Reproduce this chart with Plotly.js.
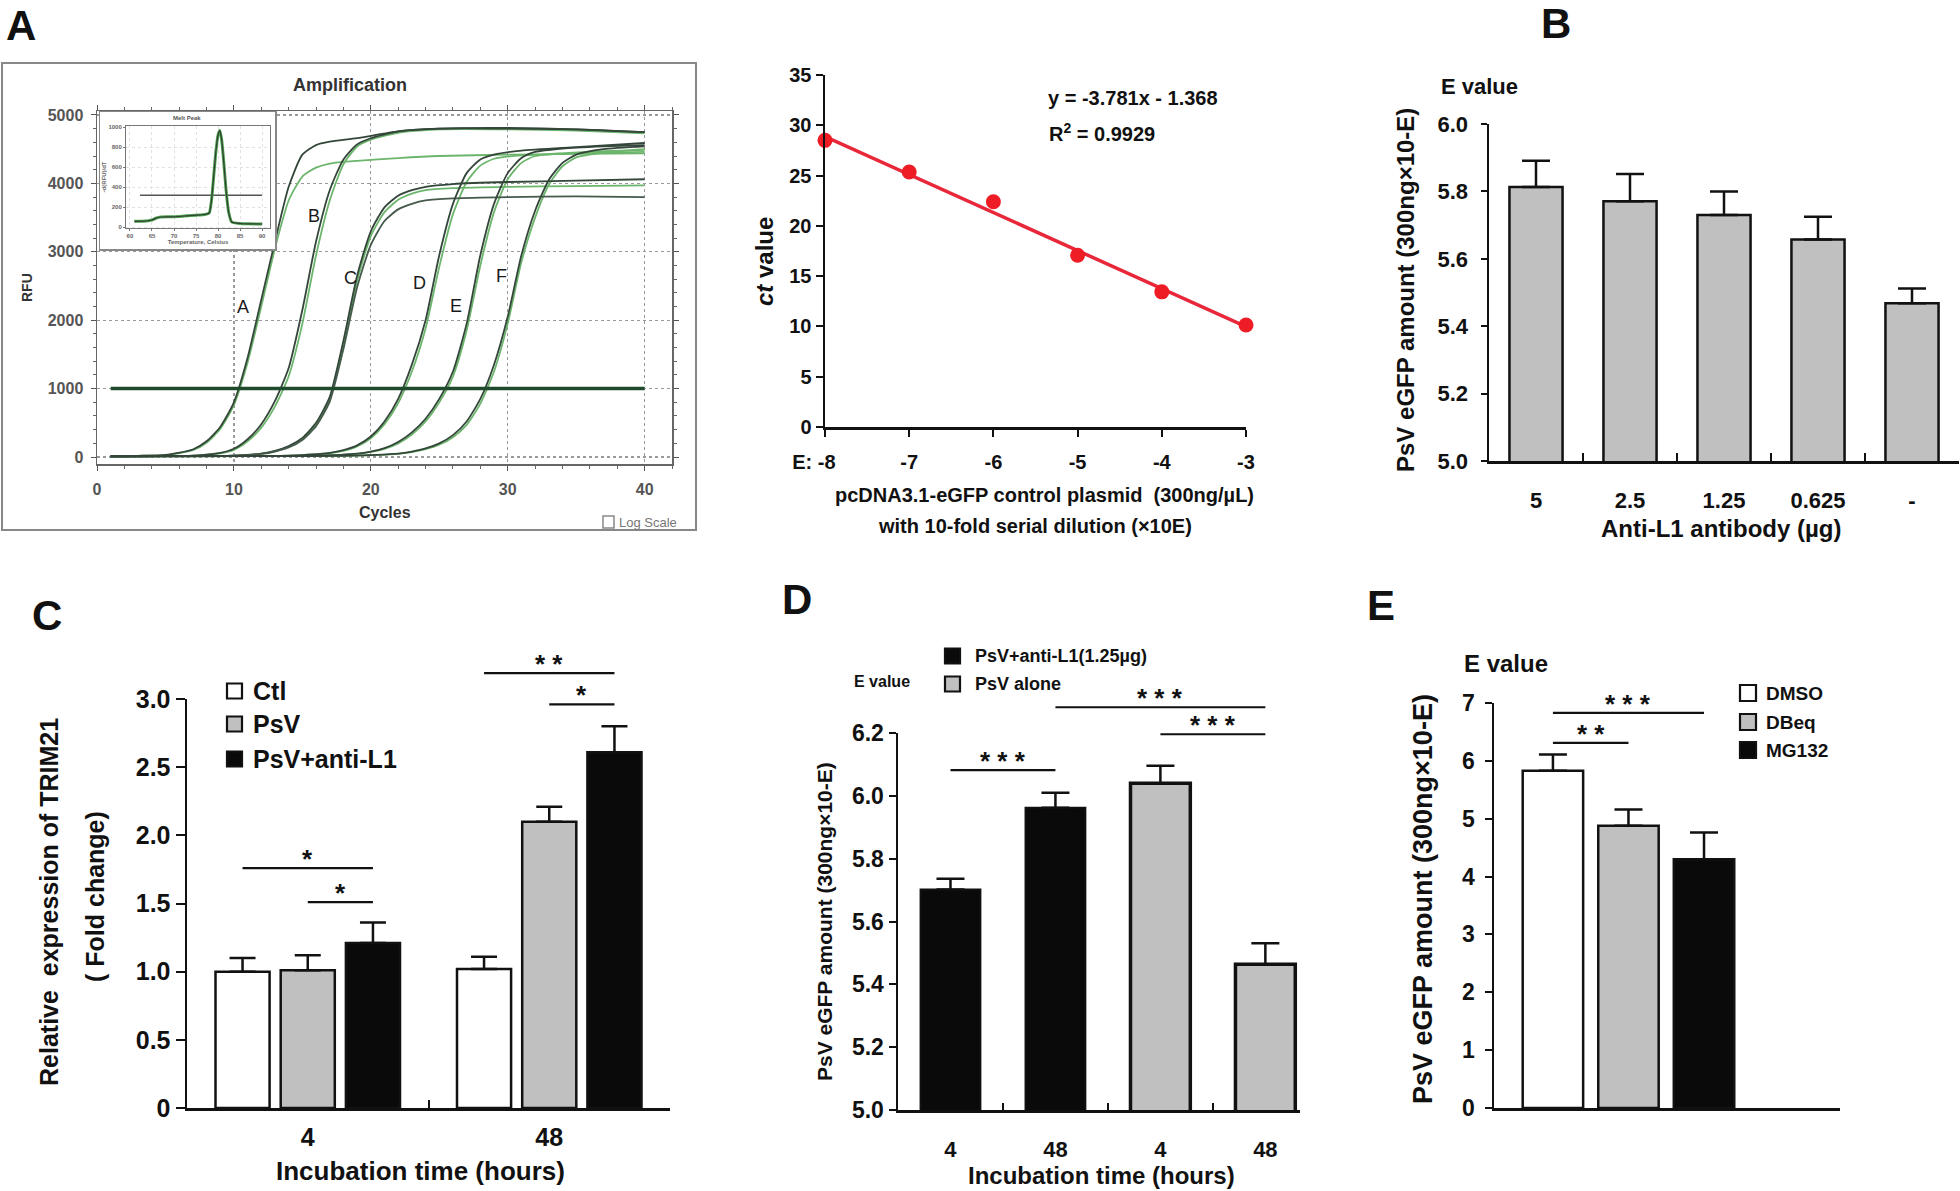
<!DOCTYPE html>
<html>
<head>
<meta charset="utf-8">
<script src="https://cdn.plot.ly/plotly-3.0.1.min.js"></script>
<style>
  html, body { margin: 0; padding: 0; background: #fff; }
  #fig { width: 1960px; height: 1191px; }
</style>
</head>
<body>
<div id="fig"></div>
<script>
// ---------- Panel A (left): amplification curves, cycle vs RFU ----------
const cycA = [1, 3, 5, 7, 8, 9, 10, 11, 12, 13, 14, 15, 16, 17, 19, 22, 25, 30, 35, 40];
const rfuA1 = [15, 18, 30, 110, 230, 440, 800, 1450, 2300, 3150, 3950, 4420, 4560, 4610, 4660, 4760, 4800, 4800, 4790, 4750];
const rfuA2 = [15, 18, 28, 100, 210, 410, 760, 1380, 2200, 3050, 3750, 4100, 4230, 4290, 4330, 4370, 4400, 4420, 4430, 4440];

const cycB = [1, 4, 7, 9, 10, 11, 12, 13, 14, 15, 16, 17, 18, 19, 20, 22, 25, 30, 35, 40];
const rfuB1 = [10, 12, 20, 60, 120, 260, 480, 820, 1300, 2150, 3150, 3900, 4350, 4570, 4660, 4760, 4800, 4810, 4790, 4750];
const rfuB2 = [10, 12, 20, 55, 105, 230, 430, 740, 1180, 1950, 2950, 3750, 4280, 4540, 4640, 4740, 4790, 4790, 4770, 4730];

const cycC = [1, 5, 10, 12, 13, 14, 15, 16, 17, 18, 19, 20, 21, 22, 23, 24, 26, 30, 35, 40];
const rfuC1 = [10, 12, 20, 50, 90, 160, 280, 500, 880, 1700, 2650, 3300, 3650, 3820, 3900, 3950, 3990, 4020, 4040, 4060];
const rfuC2 = [10, 12, 20, 48, 85, 150, 265, 480, 850, 1650, 2580, 3230, 3580, 3760, 3850, 3900, 3930, 3950, 3960, 3970];
const rfuC3 = [10, 12, 20, 45, 80, 140, 250, 450, 810, 1580, 2480, 3100, 3450, 3620, 3700, 3750, 3780, 3800, 3810, 3800];

const cycD = [1, 8, 14, 17, 18, 19, 20, 21, 22, 23, 24, 25, 26, 27, 28, 29, 31, 35, 40];
const rfuD1 = [10, 12, 20, 60, 100, 170, 300, 520, 850, 1350, 2000, 2950, 3700, 4150, 4350, 4420, 4480, 4530, 4590];
const rfuD2 = [10, 12, 20, 55, 90, 155, 275, 480, 790, 1250, 1880, 2780, 3550, 4020, 4260, 4360, 4410, 4440, 4460];

const cycE = [1, 10, 16, 19, 20, 21, 22, 23, 24, 25, 26, 27, 28, 29, 30, 31, 32, 34, 37, 40];
const rfuE1 = [10, 12, 20, 50, 80, 130, 220, 360, 560, 850, 1250, 1950, 2950, 3700, 4150, 4370, 4460, 4510, 4540, 4560];
const rfuE2 = [10, 12, 20, 45, 75, 120, 200, 330, 520, 800, 1180, 1850, 2800, 3580, 4060, 4300, 4400, 4440, 4470, 4490];

const cycF = [1, 12, 18, 22, 23, 24, 25, 26, 27, 28, 29, 30, 31, 32, 33, 34, 35, 37, 40];
const rfuF1 = [10, 12, 18, 50, 80, 125, 200, 320, 520, 850, 1350, 2050, 2950, 3600, 4050, 4300, 4420, 4500, 4540];
const rfuF2 = [10, 12, 18, 45, 72, 115, 180, 290, 470, 780, 1250, 1950, 2850, 3500, 3980, 4250, 4380, 4450, 4500];

const thresholdCycles = [1, 40];
const thresholdRFU = [1000, 1000];

const curveLabels = ['A', 'B', 'C', 'D', 'E', 'F'];
const curveLabelCycle = [10.66, 15.84, 18.54, 23.58, 26.2, 29.56];
const curveLabelRFU = [2193, 3523, 2617, 2544, 2208, 2646];

// inset: melt peak
const meltTemp = [61, 63, 65, 66, 67, 69, 71, 73, 75, 77, 78, 78.5, 79, 79.5, 80, 80.4, 80.8, 81.3, 81.8, 82.4, 83.1, 85, 87, 90];
const meltDeriv = [57, 58, 70, 90, 100, 102, 105, 112, 118, 125, 140, 260, 500, 750, 920, 965, 880, 650, 380, 150, 50, 35, 32, 30];
const meltThrTemp = [62.3, 90];
const meltThr = [317, 317];

// ---------- Panel A (right): standard curve ----------
const dilutionE = [-8, -7, -6, -5, -4, -3];
const dilutionLabels = ['E: -8\u00a0\u00a0\u00a0\u00a0', '-7', '-6', '-5', '-4', '-3'];
const ctValues = [28.5, 25.35, 22.4, 17.07, 13.44, 10.14];
const fitE = [-8, -3];
const fitCt = [28.88, 9.98];

// ---------- Panel B ----------
const antibodyDose = ['5', '2.5', '1.25', '0.625', '-'];
const eValueB = [5.813, 5.771, 5.730, 5.657, 5.468];
const errB = [0.078, 0.081, 0.070, 0.068, 0.044];

// ---------- Panel C ----------
const incubation = ['4', '48'];
const cCtl = [1.0, 1.02];
const cPsV = [1.01, 2.10];
const cAnti = [1.21, 2.61];
const errCtl = [0.10, 0.09];
const errPsV = [0.11, 0.11];
const errAnti = [0.15, 0.19];
const cTickVals = [0, 0.5, 1, 1.5, 2, 2.5, 3];
const cTickText = ['0', '0.5', '1.0', '1.5', '2.0', '2.5', '3.0'];
const cLegend = ['Ctl', 'PsV', 'PsV+anti-L1'];
// [category, bar from, bar to, level, label]
const cBrackets = [[0, 0, 2, 1.76, '*'], [0, 1, 2, 1.51, '*'], [1, 0, 2, 3.19, '* *'], [1, 1, 2, 2.96, '*']];

// ---------- Panel D ----------
const dLabels = ['4', '48', '4', '48'];
const dAnti = [5.702, 5.962];
const dAlone = [6.040, 5.464];
const errDAnti = [0.034, 0.048];
const errDAlone = [0.056, 0.067];
const dLegend = ['PsV+anti-L1(1.25\u00b5g)', 'PsV alone'];
// [bar from, bar to, level, label]
const dBrackets = [[0, 1, 6.082, '* * *'], [1, 3, 6.282, '* * *'], [2, 3, 6.196, '* * *']];

// ---------- Panel E ----------
const eTreat = ['DMSO', 'DBeq', 'MG132'];
const eValueE = [5.83, 4.88, 4.30];
const errE = [0.28, 0.28, 0.46];
const eBrackets = [[0, 1, 6.31, '* *'], [0, 2, 6.83, '* * *']];

// ---------- helpers ----------
const W = 1960, H = 1191;
const FONT = 'Liberation Sans, Arial, Helvetica, sans-serif';
const INK = '#111';
const GREY = '#c0c0c0';
function dx(a, b) { return [a / W, b / W]; }
function dy(top, bottom) { return [1 - bottom / H, 1 - top / H]; }
function f(size, color, weight) { return {family: FONT, size: size, color: color || INK, weight: weight || 'bold'}; }
function txt(x, y, text, size, extra) {
  return Object.assign({xref: 'paper', yref: 'paper', x: x / W, y: 1 - y / H, text: text,
    showarrow: false, xanchor: 'center', yanchor: 'middle', font: f(size)}, extra || {});
}
function errUp(arr, w) {
  return {type: 'data', array: arr, arrayminus: arr.map(() => 0), symmetric: false,
    color: INK, thickness: 2.5, width: w || 14};
}

const traces = [];
const shapes = [];
const annotations = [];

// amplification curves
const ampSets = [
  [cycA, rfuA2, '#6cb56c'], [cycB, rfuB2, '#6cb56c'], [cycC, rfuC2, '#6cb56c'],
  [cycD, rfuD2, '#6cb56c'], [cycE, rfuE2, '#6cb56c'], [cycF, rfuF2, '#6cb56c'],
  [cycA, rfuA1, '#34463a'], [cycB, rfuB1, '#34463a'], [cycC, rfuC1, '#34463a'],
  [cycC, rfuC3, '#465a4c'], [cycD, rfuD1, '#34463a'], [cycE, rfuE1, '#34463a'], [cycF, rfuF1, '#34463a']
];
ampSets.forEach(s => traces.push({
  type: 'scatter', mode: 'lines', x: s[0], y: s[1], xaxis: 'x', yaxis: 'y',
  line: {color: s[2], width: 1.8, shape: 'spline', smoothing: 0.6}, hoverinfo: 'skip'
}));
traces.push({type: 'scatter', mode: 'lines', x: thresholdCycles, y: thresholdRFU, xaxis: 'x', yaxis: 'y',
  line: {color: '#1f4a2b', width: 3.5}, hoverinfo: 'skip'});

// white cover behind the inset
traces.push({type: 'scatter', mode: 'markers', x: [], y: [], xaxis: 'x2', yaxis: 'y2'});

// inset
traces.push({type: 'scatter', mode: 'lines', x: meltThrTemp, y: meltThr, xaxis: 'x3', yaxis: 'y3',
  line: {color: '#555', width: 1.5}, hoverinfo: 'skip'});
traces.push({type: 'scatter', mode: 'lines', x: meltTemp, y: meltDeriv, xaxis: 'x3', yaxis: 'y3',
  line: {color: '#4fa04f', width: 3, shape: 'spline', smoothing: 0.5}, hoverinfo: 'skip'});
traces.push({type: 'scatter', mode: 'lines', x: meltTemp, y: meltDeriv, xaxis: 'x3', yaxis: 'y3',
  line: {color: '#2f3f33', width: 1.2, shape: 'spline', smoothing: 0.5}, hoverinfo: 'skip'});

// standard curve
traces.push({type: 'scatter', mode: 'lines', x: fitE, y: fitCt, xaxis: 'x4', yaxis: 'y4',
  line: {color: '#e8283a', width: 3.5}, hoverinfo: 'skip'});
traces.push({type: 'scatter', mode: 'markers', x: dilutionE, y: ctValues, xaxis: 'x4', yaxis: 'y4',
  marker: {color: '#ee1c25', size: 15}, cliponaxis: false, hoverinfo: 'skip'});

// panel B
traces.push({type: 'bar', x: antibodyDose, y: eValueB, xaxis: 'x5', yaxis: 'y5', width: 0.565,
  marker: {color: GREY, line: {color: INK, width: 2.5}}, error_y: errUp(errB, 14)});

// panel C
const cOffsets = [-0.27, 0, 0.27];
const cWidth = 0.224;
[[cCtl, errCtl, '#ffffff'], [cPsV, errPsV, GREY], [cAnti, errAnti, '#0a0a0a']].forEach((s, k) => {
  traces.push({type: 'bar', x: incubation, y: s[0], xaxis: 'x6', yaxis: 'y6', name: cLegend[k],
    width: cWidth, offset: cOffsets[k] - cWidth / 2,
    marker: {color: s[2], line: {color: INK, width: 2.5}}, error_y: errUp(s[1], 13)});
});

// panel D
const dWidth = 0.57;
traces.push({type: 'bar', x: [0, 1], y: dAnti, xaxis: 'x7', yaxis: 'y7', name: dLegend[0], width: dWidth,
  marker: {color: '#0a0a0a', line: {color: INK, width: 2}}, error_y: errUp(errDAnti, 14)});
traces.push({type: 'bar', x: [2, 3], y: dAlone, xaxis: 'x7', yaxis: 'y7', name: dLegend[1], width: dWidth,
  marker: {color: GREY, line: {color: INK, width: 3.5}}, error_y: errUp(errDAlone, 14)});

// panel E
const eColors = ['#ffffff', GREY, '#0a0a0a'];
eTreat.forEach((name, k) => {
  traces.push({type: 'bar', x: [k], y: [eValueE[k]], xaxis: 'x8', yaxis: 'y8', name: name, width: 0.8,
    marker: {color: eColors[k], line: {color: INK, width: 2.5}}, error_y: errUp([errE[k]], 14)});
});

// ---------- annotations & shapes ----------
function bracket(xa, ya, range, x0, x1, level, label) {
  const yd = (level - range[0]) / (range[1] - range[0]);
  shapes.push({type: 'line', xref: xa, yref: ya + ' domain', x0: x0, x1: x1, y0: yd, y1: yd,
    line: {color: INK, width: 2.2}});
  annotations.push({xref: xa, yref: ya + ' domain', x: (x0 + x1) / 2, y: yd, text: label,
    showarrow: false, xanchor: 'center', yanchor: 'middle', yshift: 9, font: f(26)});
}
const cRange = [0, 3], dRange = [5, 6.2], eRange = [0, 7];
cBrackets.forEach(b => bracket('x6', 'y6', cRange, b[0] + cOffsets[b[1]], b[0] + cOffsets[b[2]], b[3], b[4]));
dBrackets.forEach(b => bracket('x7', 'y7', dRange, b[0], b[1], b[2], b[3]));
eBrackets.forEach(b => bracket('x8', 'y8', eRange, b[0], b[1], b[2], b[3]));

// panel letters
[['A', 21, 25], ['B', 1556, 23], ['C', 47, 615], ['D', 797, 599], ['E', 1381, 605]].forEach(p =>
  annotations.push(txt(p[1], p[2], p[0], 42)));

// amplification frame and texts
shapes.push({type: 'rect', xref: 'paper', yref: 'paper', x0: 2 / W, x1: 696 / W, y0: 1 - 530 / H, y1: 1 - 63 / H,
  line: {color: '#888', width: 2}, layer: 'below'});
shapes.push({type: 'rect', xref: 'paper', yref: 'paper', x0: 603 / W, x1: 614 / W, y0: 1 - 528 / H, y1: 1 - 516 / H,
  line: {color: '#888', width: 1.5}});
annotations.push(txt(350, 85, 'Amplification', 18, {font: f(18, '#333')}));
annotations.push(txt(385, 513, 'Cycles', 16, {font: f(16, '#333')}));
annotations.push(txt(27, 288, 'RFU', 14, {font: f(14, '#333'), textangle: -90}));
annotations.push(txt(617, 522, 'Log Scale', 13, {font: f(13, '#777', 'normal'), xanchor: 'left'}));
annotations.push(txt(187, 118, 'Melt Peak', 6, {font: f(6, '#555')}));
curveLabels.forEach((t, i) => annotations.push({xref: 'x', yref: 'y', x: curveLabelCycle[i], y: curveLabelRFU[i],
  text: t, showarrow: false, font: f(18, '#1a1a1a', 'normal')}));

// standard curve texts
annotations.push(txt(764, 262, '<i>ct</i> value', 24, {textangle: -90}));
annotations.push(txt(1044, 495, 'pcDNA3.1-eGFP control plasmid\u00a0\u00a0(300ng/\u00b5L)', 20));
annotations.push(txt(1035, 526, 'with 10-fold serial dilution (\u00d710E)', 20));
annotations.push(txt(1046, 98, 'y = -3.781x - 1.368', 20, {xanchor: 'left'}));
annotations.push(txt(1047, 132, 'R<sup>2</sup> = 0.9929', 20, {xanchor: 'left'}));

// panel B texts
annotations.push(txt(1479, 87, 'E value', 22));
annotations.push(txt(1405, 290, 'PsV eGFP amount (300ng\u00d710-E)', 24, {textangle: -90}));
annotations.push(txt(1721, 528, 'Anti-L1 antibody (\u00b5g)', 24));

// panel C texts
annotations.push(txt(49, 902, 'Relative\u00a0\u00a0expression of TRIM21', 25, {textangle: -90}));
annotations.push(txt(95, 897, '( Fold change)', 25, {textangle: -90}));
annotations.push(txt(420, 1171, 'Incubation time (hours)', 26));

// panel D texts
annotations.push(txt(882, 681, 'E value', 16));
annotations.push(txt(824, 922, 'PsV eGFP amount (300ng\u00d710-E)', 21, {textangle: -90}));
annotations.push(txt(1101, 1175, 'Incubation time (hours)', 24));

// panel E texts
annotations.push(txt(1506, 664, 'E value', 24));
annotations.push(txt(1423, 899, 'PsV eGFP amount (300ng\u00d710-E)', 27, {textangle: -90}));

// manual legends
function legend(names, fills, sqX, sqSize, textX, ys, size) {
  names.forEach((n, i) => {
    shapes.push({type: 'rect', xref: 'paper', yref: 'paper', x0: sqX / W, x1: (sqX + sqSize) / W,
      y0: 1 - (ys[i] + sqSize / 2) / H, y1: 1 - (ys[i] - sqSize / 2) / H,
      fillcolor: fills[i], line: {color: INK, width: 2.2}});
    annotations.push(txt(textX, ys[i], n, size, {xanchor: 'left'}));
  });
}
legend(cLegend, ['#ffffff', GREY, '#0a0a0a'], 227, 15, 251, [691, 724, 759], 25);
legend(dLegend, ['#0a0a0a', GREY], 945, 15, 973, [656, 684], 18);
legend(eTreat, eColors, 1740, 16, 1764, [693, 722, 750], 19);

// ---------- axes ----------
const barY = {showline: true, linecolor: INK, linewidth: 2.5, ticks: 'outside', ticklen: 7, tickwidth: 2,
  tickcolor: INK, showgrid: false, zeroline: false, fixedrange: true};
const barX = {showline: true, linecolor: INK, linewidth: 2.5, ticks: 'inside', ticklen: 8, tickwidth: 2,
  tickcolor: INK, showgrid: false, zeroline: false, fixedrange: true};

const layout = {
  width: W, height: H, margin: {l: 0, r: 0, t: 0, b: 0},
  paper_bgcolor: '#ffffff', plot_bgcolor: '#ffffff', showlegend: false, barmode: 'overlay',
  font: f(16), shapes: shapes, annotations: annotations,

  xaxis: {domain: dx(97, 672), anchor: 'y', range: [0, 42], tickvals: [0, 10, 20, 30, 40],
    showgrid: true, gridcolor: '#9a9a9a', griddash: 'dot', gridwidth: 1.3, zeroline: false,
    showline: true, mirror: 'ticks', linecolor: '#666', linewidth: 1.5, ticks: 'outside', ticklen: 5,
    tickcolor: '#555', tickfont: f(16, '#555'), ticklabelstandoff: 5,
    minor: {dtick: 2, ticks: 'outside', ticklen: 3, tickcolor: '#666'}},
  yaxis: {domain: dy(111, 464), anchor: 'x', range: [-102, 5058], tickvals: [0, 1000, 2000, 3000, 4000, 5000],
    showgrid: true, gridcolor: '#9a9a9a', griddash: 'dot', gridwidth: 1.3, zeroline: false,
    showline: true, mirror: 'ticks', linecolor: '#666', linewidth: 1.5, ticks: 'outside', ticklen: 5,
    tickcolor: '#555', tickfont: f(16, '#555'), ticklabelstandoff: 4,
    minor: {dtick: 200, ticks: 'outside', ticklen: 3, tickcolor: '#666'}},

  xaxis2: {domain: dx(100, 275), anchor: 'y2', range: [0, 1], showline: true, mirror: true, linecolor: '#888',
    linewidth: 1.5, showgrid: false, zeroline: false, showticklabels: false, ticks: ''},
  yaxis2: {domain: dy(112, 249), anchor: 'x2', range: [0, 1], showline: true, mirror: true, linecolor: '#888',
    linewidth: 1.5, showgrid: false, zeroline: false, showticklabels: false, ticks: ''},

  xaxis3: {domain: dx(126, 270), anchor: 'y3', range: [59.1, 91.8], tickvals: [60, 65, 70, 75, 80, 85, 90],
    showline: true, mirror: true, linecolor: '#777', linewidth: 1, ticks: 'outside', ticklen: 2, tickcolor: '#777',
    tickfont: f(6, '#666'), showgrid: true, gridcolor: '#e2e2e2', griddash: 'dot', zeroline: false,
    title: {text: 'Temperature, Celsius', font: f(6, '#666'), standoff: 1}},
  yaxis3: {domain: dy(126, 228), anchor: 'x3', range: [-10, 1010], tickvals: [0, 200, 400, 600, 800, 1000],
    showline: true, mirror: true, linecolor: '#777', linewidth: 1, ticks: 'outside', ticklen: 2, tickcolor: '#777',
    tickfont: f(6, '#666'), showgrid: true, gridcolor: '#e2e2e2', griddash: 'dot', zeroline: false,
    title: {text: '-d(RFU)/dT', font: f(6, '#666'), standoff: 1}},

  xaxis4: Object.assign({}, barY, {domain: dx(825, 1246), anchor: 'y4', range: [-8, -3],
    tickvals: dilutionE, ticktext: dilutionLabels, tickfont: f(20), ticklabelstandoff: 8}),
  yaxis4: Object.assign({}, barY, {domain: dy(75, 427), anchor: 'x4', range: [0, 35], dtick: 5,
    tickfont: f(20)}),

  xaxis5: Object.assign({}, barX, {domain: dx(1489, 1959), anchor: 'y5', type: 'category',
    range: [-0.5, 4.5], tickson: 'boundaries', tickfont: f(22), ticklabelstandoff: 18}),
  yaxis5: Object.assign({}, barY, {domain: dy(124, 461), anchor: 'x5', range: [5, 6], dtick: 0.2,
    tickformat: '.1f', ticklen: 6, tickfont: f(22), ticklabelstandoff: 8}),

  xaxis6: Object.assign({}, barX, {domain: dx(187, 670), anchor: 'y6', type: 'category',
    range: [-0.5, 1.5], tickson: 'boundaries', tickfont: f(25), ticklabelstandoff: 5}),
  yaxis6: Object.assign({}, barY, {domain: dy(699, 1108), anchor: 'x6', range: cRange,
    tickvals: cTickVals, ticktext: cTickText, ticklen: 9, tickfont: f(25)}),

  xaxis7: Object.assign({}, barX, {domain: dx(898, 1300), anchor: 'y7', range: [-0.5, 3.33],
    tickvals: [0, 1, 2, 3], ticktext: dLabels, ticks: '', tickfont: f(22), ticklabelstandoff: 18,
    minor: {tickvals: [0.5, 1.5, 2.5], ticks: 'inside', ticklen: 7, tickwidth: 2, tickcolor: INK}}),
  yaxis7: Object.assign({}, barY, {domain: dy(733, 1110), anchor: 'x7', range: dRange, dtick: 0.2,
    tickformat: '.1f', tickfont: f(23)}),

  xaxis8: Object.assign({}, barX, {domain: dx(1494, 1840), anchor: 'y8', range: [-0.78, 3.8],
    tickvals: [3.8], showticklabels: false}),
  yaxis8: Object.assign({}, barY, {domain: dy(703, 1108), anchor: 'x8', range: eRange, dtick: 1,
    tickfont: f(23), ticklabelstandoff: 5})
};

Plotly.newPlot('fig', traces, layout, {displayModeBar: false, staticPlot: true});
</script>
</body>
</html>
